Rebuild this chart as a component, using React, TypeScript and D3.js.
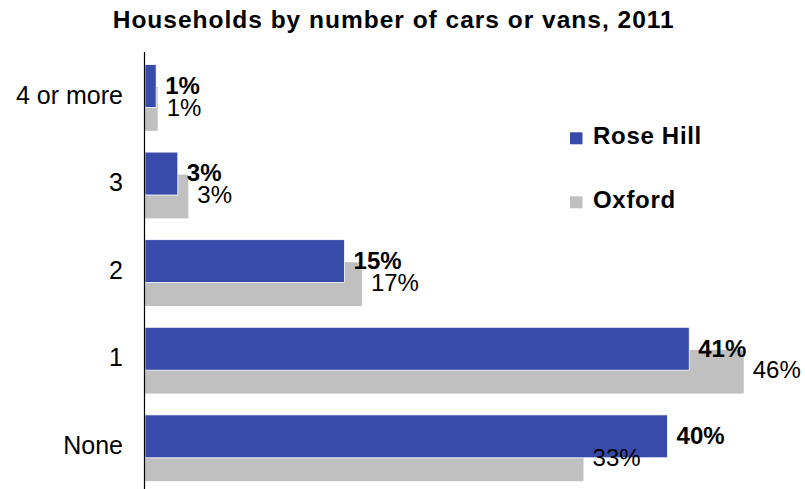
import React from "react";
import * as d3 from "d3";

const title = "Households by number of cars or vans, 2011";
const categories = ["4 or more", "3", "2", "1", "None"];
const roseHill = [0.85, 2.5, 15.2, 41.45, 39.8];
const oxford = [0.97, 3.3, 16.52, 45.6, 33.4];
const seriesNames = ["Rose Hill", "Oxford"];

const W = 805;
const H = 489;
const BLUE = "#394BAA";
const GREY = "#C0C0C0";
const FONT = "Arial, 'Liberation Sans', Helvetica, sans-serif";

export default function App() {
  const x = d3.scaleLinear().domain([0, 50]).range([145, 145 + 50 * 13.13]);
  const y = d3.scaleBand<string>().domain(categories).range([53, 53 + 5 * 87.6]).padding(0);
  const bw = y.bandwidth();
  const fmt = (v: number) => `${Math.round(v)}%`;

  const blueTop = (c: string) => (y(c) as number) + bw * 0.131;
  const greyTop = (c: string) => (y(c) as number) + bw * 0.388;

  return (
    <svg
      width={W}
      height={H}
      style={{ position: "absolute", left: 0, top: 0, display: "block", background: "#fff" }}
      fontFamily={FONT}
    >
      <text
        x={112.7}
        y={28}
        fontSize={24.5}
        fontWeight="bold"
        textLength={561}
        lengthAdjust="spacing"
        fill="#000"
      >
        {title}
      </text>

      {/* grey (Oxford) bars */}
      {categories.map((c, i) => (
        <rect
          key={"g" + c}
          x={x(0)}
          y={greyTop(c)}
          width={x(oxford[i]) - x(0)}
          height={bw * 0.5}
          fill={GREY}
        />
      ))}
      {/* blue (Rose Hill) bars */}
      {categories.map((c, i) => (
        <rect
          key={"b" + c}
          x={x(0)}
          y={blueTop(c)}
          width={x(roseHill[i]) - x(0)}
          height={bw * 0.49}
          fill={BLUE}
          stroke="#ffffff"
          strokeWidth={0.8}
        />
      ))}

      {/* axis line */}
      <line x1={144.5} x2={144.5} y1={52} y2={H} stroke="#000" strokeWidth={1.2} />

      {/* category labels */}
      {categories.map((c) => (
        <text
          key={"c" + c}
          x={123}
          y={(y(c) as number) + bw / 2 + 6.8}
          textAnchor="end"
          fontSize={25}
          fill="#000"
        >
          {c}
        </text>
      ))}

      {/* value labels */}
      {categories.map((c, i) => (
        <text
          key={"rv" + c}
          x={x(roseHill[i]) + 9}
          y={blueTop(c) + 29.3}
          fontSize={24}
          fontWeight="bold"
          fill="#000"
        >
          {fmt(roseHill[i])}
        </text>
      ))}
      {categories.map((c, i) => (
        <text
          key={"ov" + c}
          x={x(oxford[i]) + 9}
          y={blueTop(c) + 51.2}
          fontSize={24}
          fill="#000"
        >
          {fmt(oxford[i])}
        </text>
      ))}

      {/* legend */}
      {seriesNames.map((s, i) => (
        <g key={"l" + s} transform={`translate(570, ${132.3 + i * 64})`}>
          <rect x={0} y={0} width={12.5} height={12} fill={i === 0 ? BLUE : GREY} />
          <text x={23} y={11.8} fontSize={24} fontWeight="bold" letterSpacing={0.7} fill="#000">
            {s}
          </text>
        </g>
      ))}
    </svg>
  );
}
